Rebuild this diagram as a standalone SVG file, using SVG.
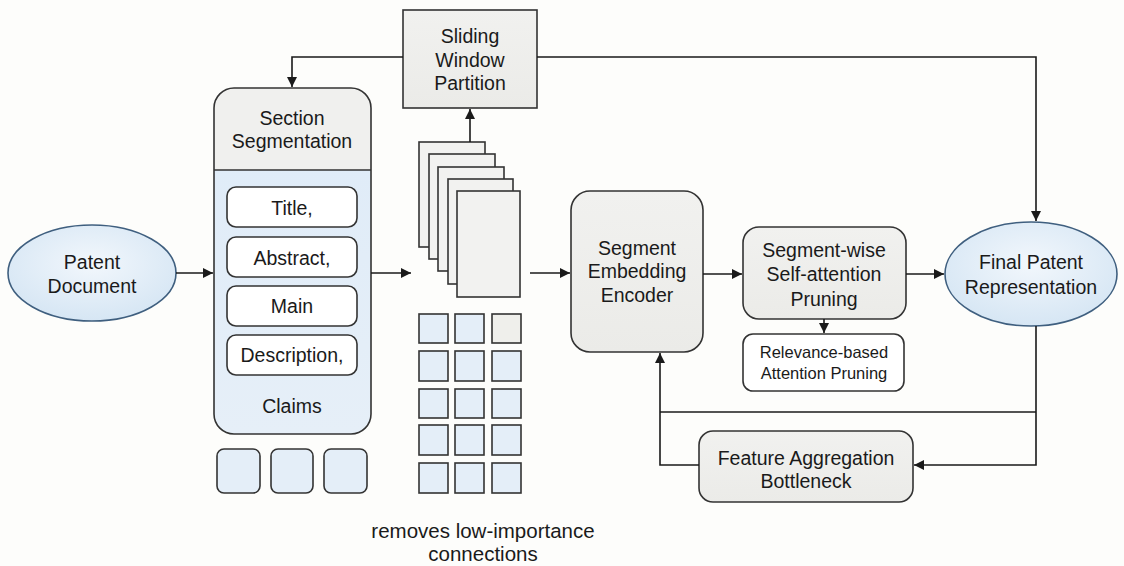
<svg xmlns="http://www.w3.org/2000/svg" width="1124" height="566" viewBox="0 0 1124 566">
<defs>
<marker id="ah" viewBox="0 0 10 10" refX="10" refY="5" markerWidth="10" markerHeight="10" markerUnits="userSpaceOnUse" orient="auto"><path d="M0,0 L10,5 L0,10 Z" fill="#1a1a1a"/></marker>
<radialGradient id="blueEl" cx="50%" cy="40%" r="60%"><stop offset="0" stop-color="#f2f7fc"/><stop offset="1" stop-color="#d6e6f4"/></radialGradient>
<linearGradient id="blueBody" x1="0" y1="0" x2="0" y2="1"><stop offset="0" stop-color="#e0ecf8"/><stop offset="1" stop-color="#e6eff8"/></linearGradient>
<linearGradient id="gray" x1="0" y1="0" x2="0" y2="1"><stop offset="0" stop-color="#f1f1ef"/><stop offset="1" stop-color="#ebebe8"/></linearGradient>
<clipPath id="secClip"><rect x="214" y="88" width="157" height="346" rx="20"/></clipPath>
</defs>
<style>
text{font-family:"Liberation Sans",Arial,sans-serif;fill:#1a1a1a;text-anchor:middle}
.t{font-size:19.5px}
.s{font-size:16.5px}
.box{fill:url(#gray);stroke:#333;stroke-width:1.6}
.wbox{fill:#ffffff;stroke:#333;stroke-width:1.6}
.bsq{fill:#e4eef8;stroke:#333;stroke-width:1.6}
.gsq{fill:#efefeb;stroke:#333;stroke-width:1.6}
.page{fill:#f2f2f0;stroke:#333;stroke-width:1.6}
.ell{fill:url(#blueEl);stroke:#3f5f7f;stroke-width:1.6}
.c{fill:none;stroke:#1a1a1a;stroke-width:1.6}
</style>
<rect width="1124" height="566" fill="#fdfdfb"/>

<g id="patent-document">
<ellipse class="ell" cx="92" cy="273" rx="84" ry="48"/>
<text class="t" x="92" y="269">Patent</text>
<text class="t" x="92" y="293">Document</text>
</g>

<g id="sliding-window">
<rect class="box" x="403" y="10" width="134" height="98" fill="#efefed"/>
<text class="t" x="470" y="43">Sliding</text>
<text class="t" x="470" y="67">Window</text>
<text class="t" x="470" y="90">Partition</text>
</g>

<g id="section-segmentation">
<g clip-path="url(#secClip)">
<rect x="214" y="88" width="157" height="82" fill="#f0f0ee"/>
<rect x="214" y="170" width="157" height="264" fill="url(#blueBody)"/>
</g>
<line x1="214" y1="170" x2="371" y2="170" stroke="#333" stroke-width="1.6"/>
<rect x="214" y="88" width="157" height="346" rx="20" fill="none" stroke="#333" stroke-width="1.6"/>
<text class="t" x="292" y="125">Section</text>
<text class="t" x="292" y="148">Segmentation</text>
<rect class="wbox" x="227" y="187" width="130" height="40" rx="9"/>
<text class="t" x="292" y="215">Title,</text>
<rect class="wbox" x="227" y="237" width="130" height="40" rx="9"/>
<text class="t" x="292" y="265">Abstract,</text>
<rect class="wbox" x="227" y="286" width="130" height="40" rx="9"/>
<text class="t" x="292" y="313">Main</text>
<rect class="wbox" x="227" y="335" width="130" height="40" rx="9"/>
<text class="t" x="292" y="362">Description,</text>
<text class="t" x="292" y="413">Claims</text>
</g>

<g id="section-chunks">
<rect class="bsq" x="217" y="449" width="43" height="44" rx="7"/>
<rect class="bsq" x="271" y="449" width="42" height="44" rx="7"/>
<rect class="bsq" x="324" y="449" width="43" height="44" rx="7"/>
</g>

<g id="window-stack">
<rect class="page" x="419" y="142" width="66" height="105"/>
<rect class="page" x="429" y="154" width="66" height="105"/>
<rect class="page" x="438" y="167" width="66" height="104"/>
<rect class="page" x="448" y="179" width="65" height="105"/>
<rect class="page" x="457" y="191" width="63" height="106"/>
</g>

<g id="segment-grid">
<rect class="bsq" x="419" y="314" width="29" height="29"/>
<rect class="bsq" x="455" y="314" width="29" height="29"/>
<rect class="gsq" x="492" y="314" width="29" height="29"/>
<rect class="bsq" x="419" y="351" width="29" height="30"/>
<rect class="bsq" x="455" y="351" width="29" height="30"/>
<rect class="bsq" x="492" y="351" width="29" height="30"/>
<rect class="bsq" x="419" y="389" width="29" height="29"/>
<rect class="bsq" x="455" y="389" width="29" height="29"/>
<rect class="bsq" x="492" y="389" width="29" height="29"/>
<rect class="bsq" x="419" y="425" width="29" height="30"/>
<rect class="bsq" x="455" y="425" width="29" height="30"/>
<rect class="bsq" x="492" y="425" width="29" height="30"/>
<rect class="bsq" x="419" y="463" width="29" height="30"/>
<rect class="bsq" x="455" y="463" width="29" height="30"/>
<rect class="bsq" x="492" y="463" width="29" height="30"/>
</g>

<g id="grid-caption">
<text x="483" y="538" style="font-size:20.5px">removes low-importance</text>
<text x="483" y="561" style="font-size:20.5px">connections</text>
</g>

<g id="segment-embedding-encoder">
<rect class="box" x="571" y="191" width="132" height="161" rx="19"/>
<text class="t" x="637" y="255">Segment</text>
<text class="t" x="637" y="278">Embedding</text>
<text class="t" x="637" y="302">Encoder</text>
</g>

<g id="self-attention-pruning">
<rect class="box" x="743" y="227" width="163" height="92" rx="16"/>
<text class="t" x="824" y="257">Segment-wise</text>
<text class="t" x="824" y="281">Self-attention</text>
<text class="t" x="824" y="306">Pruning</text>
</g>

<g id="relevance-pruning">
<rect class="wbox" x="743" y="334" width="161" height="57" rx="10"/>
<text class="s" x="824" y="358">Relevance-based</text>
<text class="s" x="824" y="379">Attention Pruning</text>
</g>

<g id="final-representation">
<ellipse class="ell" cx="1031" cy="274" rx="86" ry="52"/>
<text class="t" x="1031" y="269">Final Patent</text>
<text class="t" x="1031" y="294">Representation</text>
</g>

<g id="feature-aggregation">
<rect class="box" x="699" y="431" width="214" height="71" rx="14"/>
<text class="t" x="806" y="465">Feature Aggregation</text>
<text class="t" x="806" y="488">Bottleneck</text>
</g>

<g id="connectors">
<line class="c" x1="176" y1="273" x2="213" y2="273" marker-end="url(#ah)"/>
<path class="c" d="M403,57 H292 V87" marker-end="url(#ah)"/>
<line class="c" x1="371" y1="273" x2="411" y2="273" marker-end="url(#ah)"/>
<line class="c" x1="470" y1="142" x2="470" y2="109" marker-end="url(#ah)"/>
<line class="c" x1="530" y1="273" x2="570" y2="273" marker-end="url(#ah)"/>
<path class="c" d="M537,57 H1036 V221" marker-end="url(#ah)"/>
<line class="c" x1="703" y1="274" x2="742" y2="274" marker-end="url(#ah)"/>
<line class="c" x1="906" y1="274" x2="944" y2="274" marker-end="url(#ah)"/>
<line class="c" x1="824" y1="319" x2="824" y2="333" marker-end="url(#ah)"/>
<path class="c" d="M1036,326 V465 H914" marker-end="url(#ah)"/>
<line class="c" x1="1036" y1="412" x2="660" y2="412"/>
<path class="c" d="M699,465 H660 V353" marker-end="url(#ah)"/>
</g>
</svg>
